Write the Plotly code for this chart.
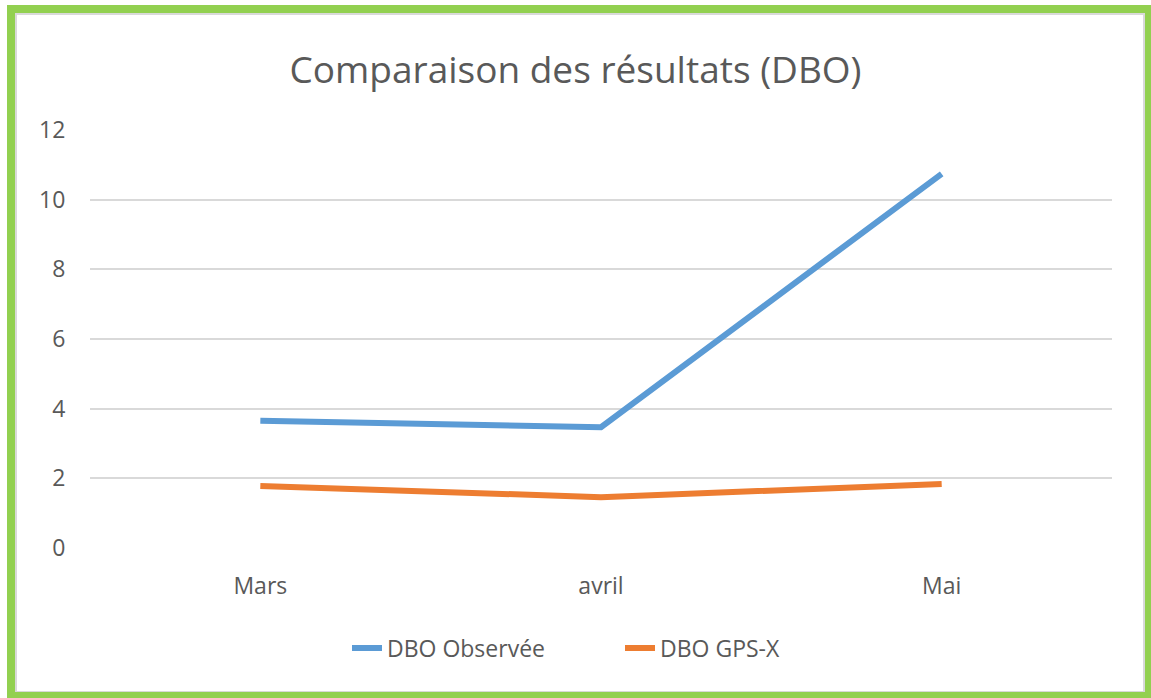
import plotly.graph_objects as go

months = ["Mars", "avril", "Mai"]
dbo_observee = [3.65, 3.47, 10.74]
dbo_gpsx = [1.78, 1.46, 1.84]
y_ticks = [0, 2, 4, 6, 8, 10, 12]

W, H = 1151, 698
ML, MR, MT, MB = 90, 39, 130, 150
PW, PH = W - ML - MR, H - MT - MB


def px_x(p):
    return (p - ML) / PW


def px_y(p):
    return (H - MB - p) / PH


grey = "#595959"
font = "Open Sans"

fig = go.Figure()
fig.add_trace(go.Scatter(x=months, y=dbo_observee, mode="lines", name="DBO Observée",
                         line=dict(color="#5B9BD5", width=6)))
fig.add_trace(go.Scatter(x=months, y=dbo_gpsx, mode="lines", name="DBO GPS-X",
                         line=dict(color="#ED7D31", width=6)))

fig.update_layout(
    width=W, height=H,
    margin=dict(l=ML, r=MR, t=MT, b=MB),
    paper_bgcolor="white", plot_bgcolor="white",
    title=dict(text="Comparaison des résultats (DBO)", x=0.5, xanchor="center",
               y=1 - 70 / H, yanchor="middle",
               font=dict(family=font, size=37, color=grey)),
    font=dict(family=font, color=grey),
    showlegend=True,
    legend=dict(orientation="h", x=px_x(347), xanchor="left", y=px_y(648), yanchor="middle",
                font=dict(family=font, size=23, color=grey),
                entrywidth=228, entrywidthmode="pixels",
                bgcolor="rgba(0,0,0,0)"),
    xaxis=dict(range=[-0.5, 2.5], showgrid=False, showline=False, zeroline=False,
               ticks="outside", ticklen=17, tickcolor="rgba(0,0,0,0)",
               tickfont=dict(family=font, size=23, color=grey)),
    yaxis=dict(range=[0, 12], tickvals=y_ticks, showgrid=True, gridcolor="#D9D9D9",
               gridwidth=1.5, zeroline=False, showline=False,
               ticks="outside", ticklen=19, tickcolor="rgba(0,0,0,0)",
               tickfont=dict(family=font, size=23, color=grey)),
    shapes=[
        # light inner shadow of the frame
        dict(type="rect", xref="paper", yref="paper", layer="above",
             x0=px_x(16), x1=px_x(1144), y0=px_y(14), y1=px_y(692),
             line=dict(color="#D9D9D9", width=2), fillcolor="rgba(0,0,0,0)"),
        # green frame
        dict(type="rect", xref="paper", yref="paper", layer="above",
             x0=px_x(11), x1=px_x(1149), y0=px_y(9), y1=px_y(696),
             line=dict(color="#92D050", width=8), fillcolor="rgba(0,0,0,0)"),
    ],
)

fig.write_html("out.html")
